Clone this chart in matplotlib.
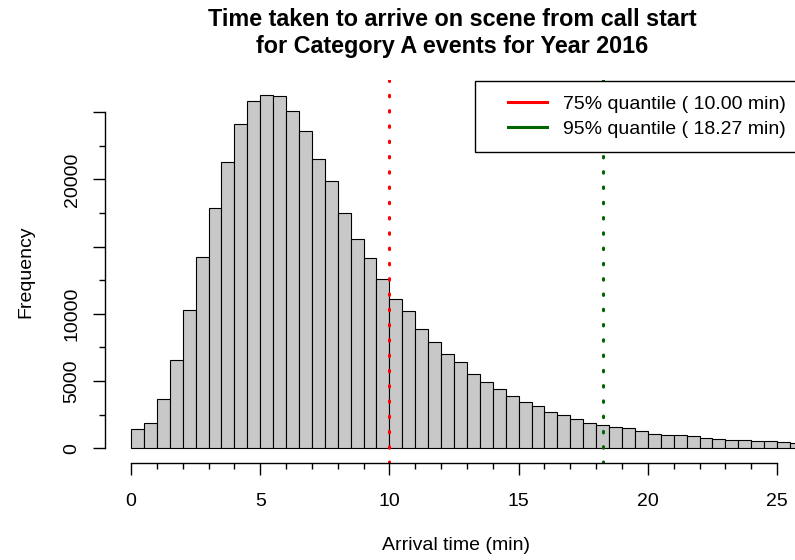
import numpy as np
import matplotlib.pyplot as plt
from matplotlib.lines import Line2D
from matplotlib.patches import Rectangle

plt.rcParams['font.family'] = ['Liberation Sans', 'DejaVu Sans']

# histogram bins (left edges, width 0.5 min) and counts
bin_width = 0.5
counts = [1440, 1880, 3690, 6550, 10290, 14230, 17860, 21300, 24150, 25860,
          26310, 26190, 25120, 23630, 21500, 19910, 17530, 15570, 14180, 12620,
          11130, 10240, 8900, 7930, 7020, 6400, 5550, 4910, 4390, 3890,
          3470, 3125, 2720, 2455, 2200, 1905, 1755, 1610, 1490, 1310,
          1090, 1010, 965, 890, 790, 715, 640, 620, 565, 545,
          490, 420, 380]
bin_left = np.arange(len(counts)) * bin_width

q75 = 10.00
q95 = 18.27

title = "Time taken to arrive on scene from call start\nfor Category A events for Year 2016"


def main():
    fig = plt.figure(figsize=(7.95, 5.6), dpi=100)
    W, H = 795, 560
    left, right, top, bottom = 105, 807, 80, 462.7
    aw, ah = right - left, bottom - top
    ax = fig.add_axes([left / W, 1 - bottom / H, aw / W, ah / H])

    ax.bar(bin_left, counts, width=bin_width, align='edge',
           color='#C8C8C8', edgecolor='black', linewidth=0.8)

    dots = dict(linestyle=(0, (0.5, 4.5)), linewidth=2.2, dash_capstyle='round')
    ax.axvline(q75, color='red', **dots)
    ax.axvline(q95, color='darkgreen', **dots)

    ax.set_xlim(-1.006, 26.16)
    ax.set_ylim(-1071, 27400)

    # R-style axes: lines only between first and last tick
    for s in ['top', 'right']:
        ax.spines[s].set_visible(False)
    ax.spines['bottom'].set_bounds(0, 25)
    ax.spines['left'].set_bounds(0, 25000)
    ax.spines['bottom'].set_linewidth(1.0)
    ax.spines['left'].set_linewidth(1.0)

    fs = 14
    ax.set_xticks(range(0, 26, 5))
    ax.set_xticks(range(0, 26), minor=True)
    ax.set_yticks([0, 5000, 10000, 15000, 20000, 25000])
    ax.set_yticklabels(['0', '5000', '10000', '', '20000', ''])
    ax.set_yticks(np.arange(0, 25001, 2500), minor=True)
    ax.tick_params(which='major', length=8.5, width=1.0, labelsize=fs)
    ax.tick_params(axis='x', which='major', pad=13)
    ax.tick_params(axis='y', which='major', pad=9)
    ax.tick_params(which='minor', length=4.5, width=1.0)
    for lab in ax.get_yticklabels():
        lab.set_rotation(90)
        lab.set_va('center')

    ax.set_xlabel('Arrival time (min)', fontsize=fs, labelpad=20)
    ax.set_ylabel('Frequency', fontsize=fs, labelpad=21)
    fig.suptitle(title, fontsize=16.8, fontweight='bold', x=452 / W, y=1 - 8 / H,
                 va='top', linespacing=1.22)

    # legend box like R's (wider inset on the left), cut by the figure edge
    frame = Rectangle(((475 - left) / aw, (bottom - 152.3) / ah),
                      (815 - 475) / aw, (152.3 - 81) / ah,
                      transform=ax.transAxes, facecolor='white', edgecolor='black',
                      linewidth=1.0, zorder=4.9, clip_on=False)
    ax.add_patch(frame)

    handles = [Line2D([], [], color='red', linewidth=2.2),
               Line2D([], [], color='darkgreen', linewidth=2.2)]
    labels = ['75%% quantile ( %.2f min)' % q75, '95%% quantile ( %.2f min)' % q95]
    ax.legend(handles, labels, loc='center left',
              bbox_to_anchor=((507.7 - left) / aw, (bottom - 116.5) / ah),
              fontsize=fs, frameon=False, borderpad=0, borderaxespad=0,
              handlelength=2.0, handletextpad=0.82, labelspacing=0.35)

    plt.savefig('out.png', dpi=100)


if __name__ == "__main__":
    main()
